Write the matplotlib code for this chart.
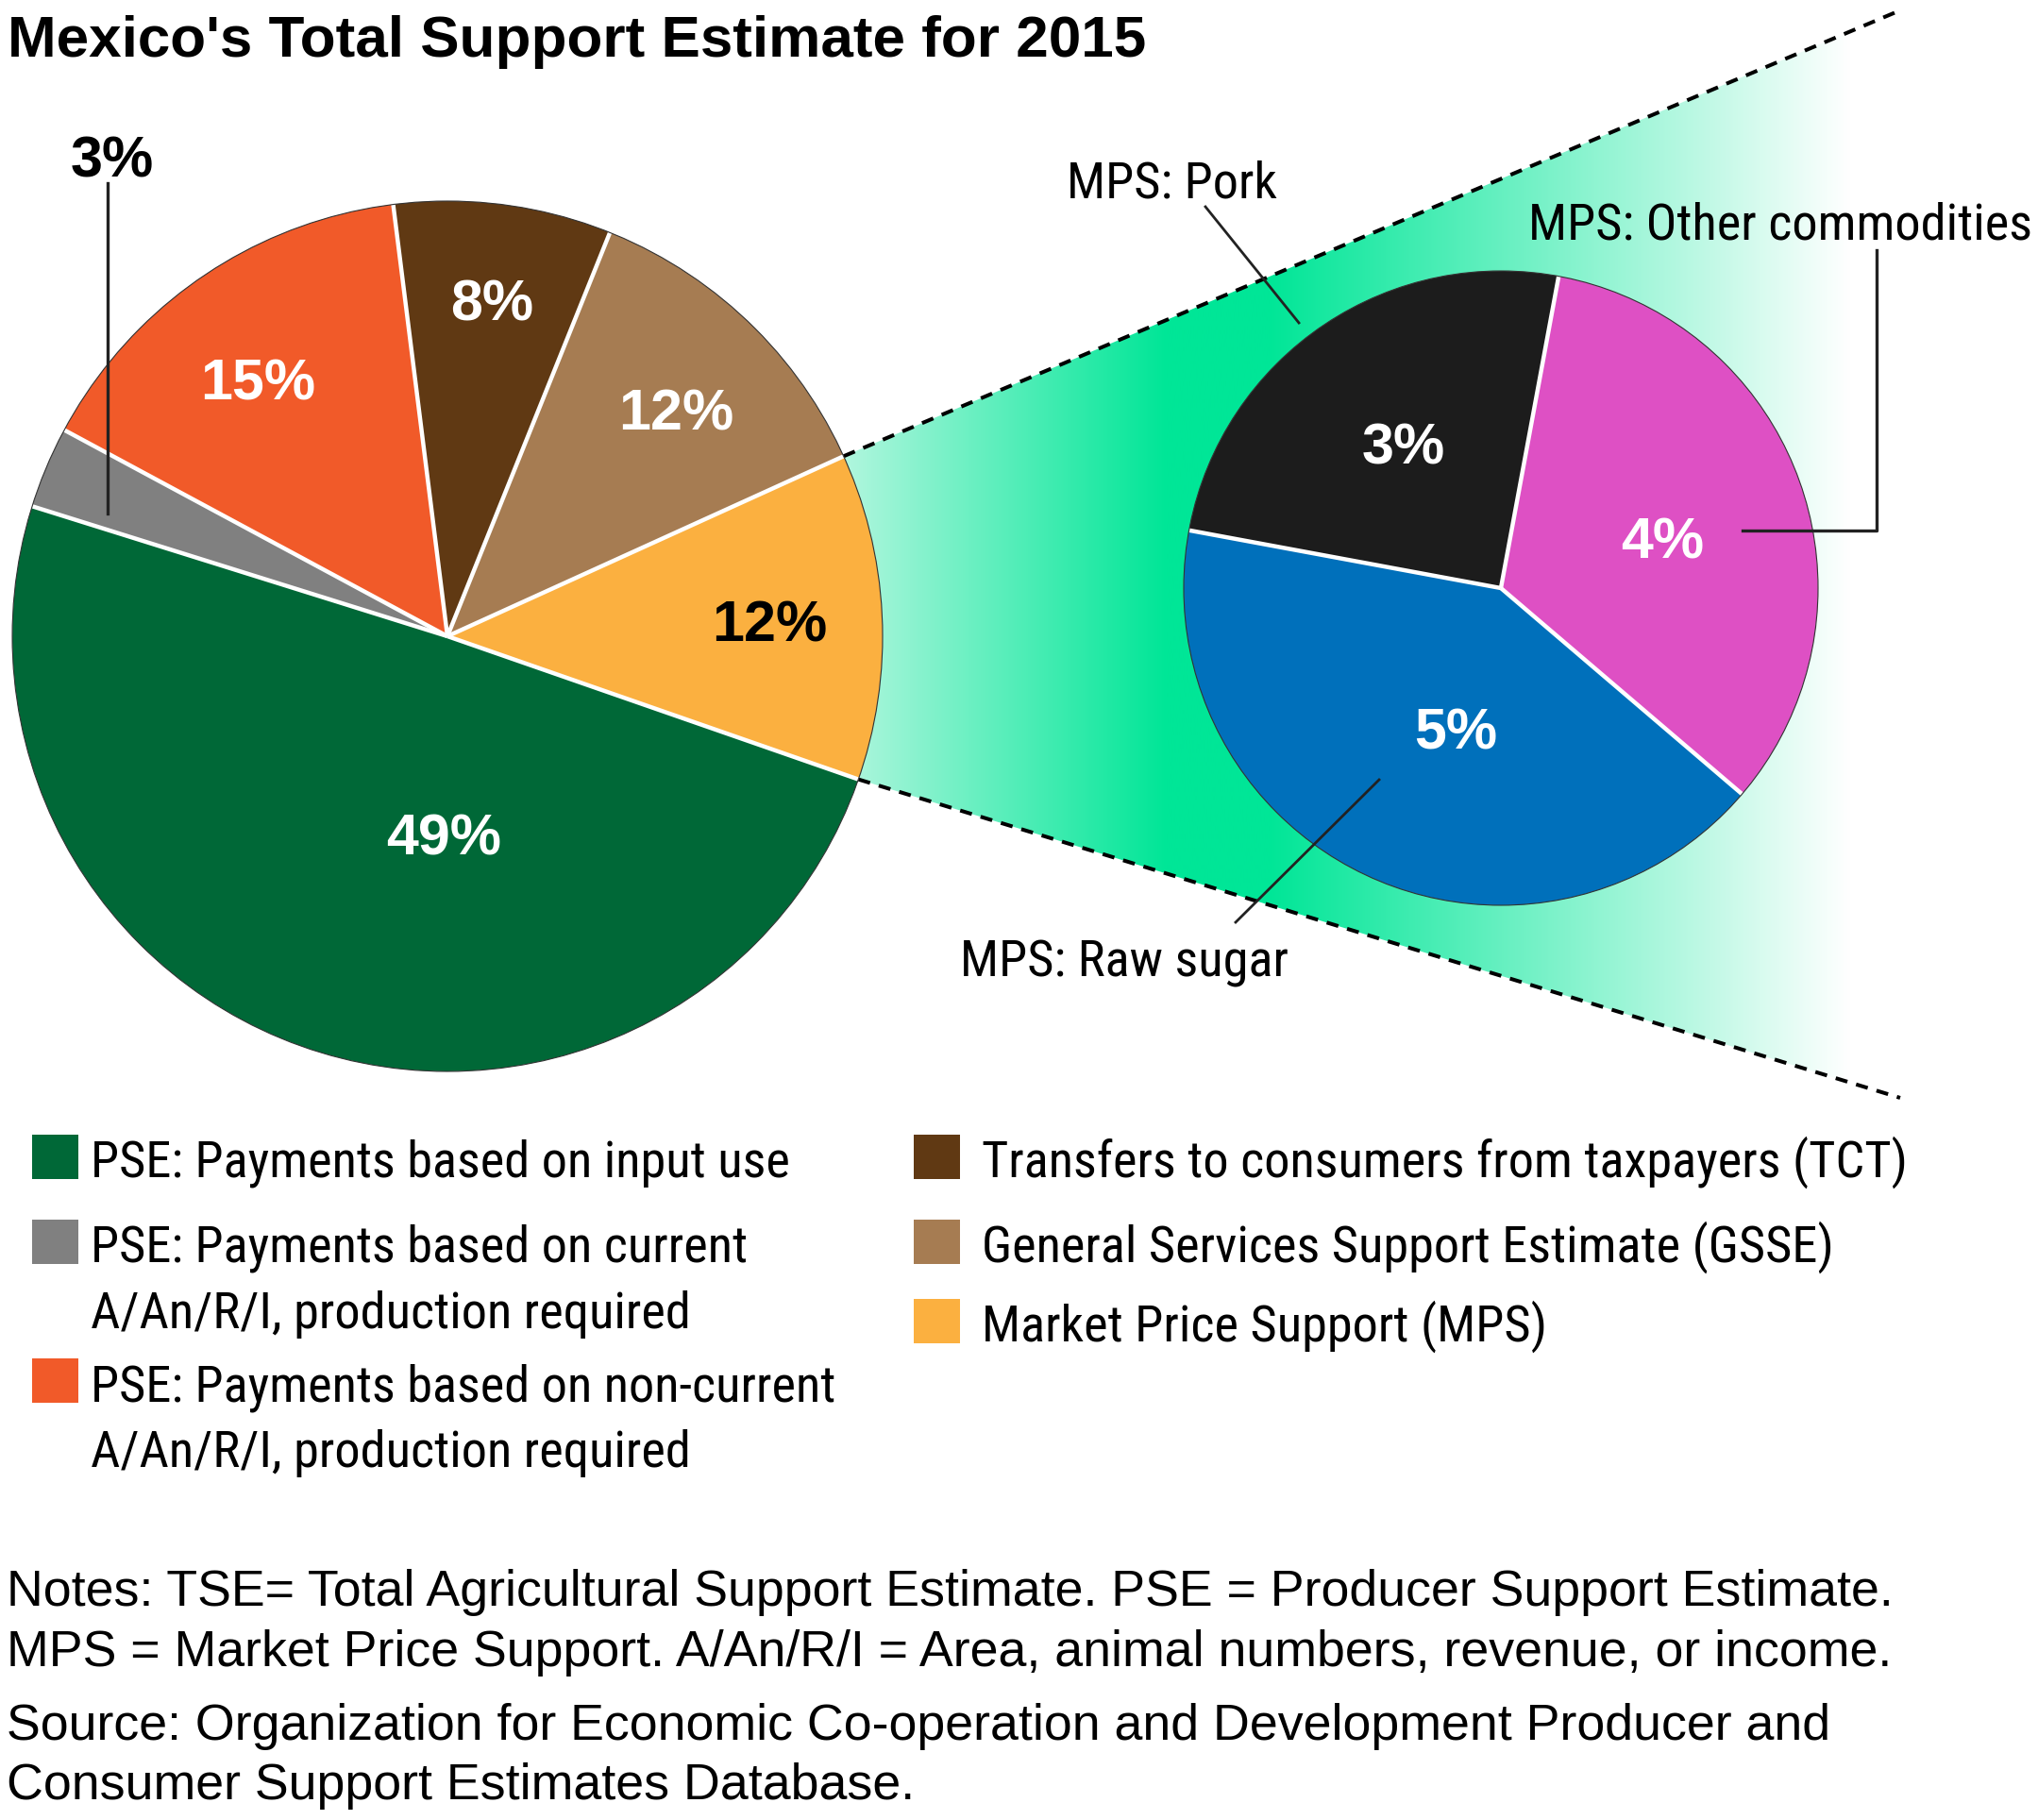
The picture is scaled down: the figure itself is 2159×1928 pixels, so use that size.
import numpy as np
import matplotlib
matplotlib.use("Agg")
import matplotlib.pyplot as plt
from matplotlib import font_manager as fm
from matplotlib.patches import Rectangle, Polygon, Circle
from matplotlib.colors import to_rgb

# ---------------- data ----------------
title = "Mexico's Total Support Estimate for 2015"
categories = ["PSE: Payments based on input use",
              "PSE: Payments based on current\nA/An/R/I, production required",
              "PSE: Payments based on non-current\nA/An/R/I, production required",
              "Transfers to consumers from taxpayers (TCT)",
              "General Services Support Estimate (GSSE)",
              "Market Price Support (MPS)"]
values = [49, 3, 15, 8, 12, 12]
colors = ["#006837", "#808080", "#F15A29", "#603913", "#A67C52", "#FBB040"]

mps_categories = ["MPS: Other commodities", "MPS: Pork", "MPS: Raw sugar"]
mps_values = [4, 3, 5]
mps_colors = ["#DE50C4", "#1C1C1C", "#0070BB"]

notes = ["Notes: TSE= Total Agricultural Support Estimate. PSE = Producer Support Estimate.",
         "MPS = Market Price Support. A/An/R/I = Area, animal numbers, revenue, or income."]
source = ["Source: Organization for Economic Co-operation and Development Producer and",
          "Consumer Support Estimates Database."]

# ---------------- fonts ----------------
names = {f.name for f in fm.fontManager.ttflist}
REG = "Liberation Sans" if "Liberation Sans" in names else "DejaVu Sans"
NARROW = None
NARROW_STRETCH = "normal"
narrow_scale = 1.0
for cand, sc in [("Liberation Sans Narrow", 1.0), ("Arial Narrow", 1.0),
                 ("Roboto Condensed", 0.955)]:
    if cand in names:
        NARROW = cand
        narrow_scale = sc
        break
if NARROW is None:
    cond = [f for f in fm.fontManager.ttflist
            if f.name == "DejaVu Sans" and "Condensed" in f.fname]
    if cond:
        NARROW = "DejaVu Sans"
        NARROW_STRETCH = "condensed"
        narrow_scale = 0.9
    else:
        NARROW = REG
        narrow_scale = 0.82

W, H = 2159, 1928
fig = plt.figure(figsize=(W / 100, H / 100), dpi=100)
ax = fig.add_axes([0, 0, 1, 1])


def Y(y):
    return H - y


def px(p):
    return p * 0.72


# ---------------- main pie ----------------
main_center = (474, Y(674))
main_r = 461
order = list(range(len(values)))[::-1]  # MPS first, counter-clockwise
wedges, _ = ax.pie([values[i] for i in order], colors=[colors[i] for i in order],
                   startangle=-19.2, counterclock=True, radius=main_r,
                   center=main_center, wedgeprops=dict(linewidth=0), frame=False)
for w in wedges:
    w.set_zorder(3)

# MPS wedge (first in pie order)
mps_w = wedges[0]
t1, t2 = np.deg2rad(mps_w.theta1), np.deg2rad(mps_w.theta2)
p_top = (main_center[0] + main_r * np.cos(t2), main_center[1] + main_r * np.sin(t2))
p_bot = (main_center[0] + main_r * np.cos(t1), main_center[1] + main_r * np.sin(t1))
end_top = (2013, Y(11))
end_bot = (2013, Y(1163))

# gradient band
poly = Polygon([p_top, end_top, end_bot, p_bot], closed=True, facecolor="none",
               edgecolor="none", transform=ax.transData)
ax.add_patch(poly)
gx = np.linspace(880, 2020, 600)
stops_x = [880, 1235, 1345, 1960, 2020]
stops_c = ["#B8F7E1", "#00E697", "#00E697", "#FFFFFF", "#FFFFFF"]
rgb = np.array([to_rgb(c) for c in stops_c])
grad = np.stack([np.interp(gx, stops_x, rgb[:, k]) for k in range(3)], axis=-1)[None, :, :]
im = ax.imshow(grad, extent=[880, 2020, Y(1170), Y(0)], aspect="auto", zorder=1,
               interpolation="bilinear")
im.set_clip_path(poly)
ax.plot([p_top[0], end_top[0]], [p_top[1], end_top[1]], color="black", lw=2.9,
        ls=(0, (3.2, 2.4)), zorder=2, solid_capstyle="butt")
ax.plot([p_bot[0], end_bot[0]], [p_bot[1], end_bot[1]], color="black", lw=2.9,
        ls=(0, (3.2, 2.4)), zorder=2, solid_capstyle="butt")


def separators(wlist, center, r):
    for w in wlist:
        a = np.deg2rad(w.theta1)
        ax.plot([center[0], center[0] + r * np.cos(a)],
                [center[1], center[1] + r * np.sin(a)],
                color="white", lw=3.2, zorder=4, solid_capstyle="butt")
    ax.add_patch(Circle(center, r, facecolor="none", edgecolor="#333333",
                        lw=0.8, zorder=5))


separators(wedges, main_center, main_r)

# ---------------- MPS breakdown pie ----------------
small_center = (1590, Y(623))
small_r = 336
swedges, _ = ax.pie(mps_values, colors=mps_colors, startangle=-40.5,
                    counterclock=True, radius=small_r, center=small_center,
                    wedgeprops=dict(linewidth=0), frame=False)
for w in swedges:
    w.set_zorder(3)
separators(swedges, small_center, small_r)

# ---------------- percentage labels ----------------
PCT = px(61)
main_lbl_pos = [(470, 906), (119, 187), (273, 423), (521, 339), (716, 456), (815, 679)]
main_lbl_col = ["white", "black", "white", "white", "white", "black"]
for v, (x, y), c in zip(values, main_lbl_pos, main_lbl_col):
    ax.text(x, Y(y), f"{v}%", ha="center", va="baseline", color=c, fontsize=PCT,
            fontweight="bold", family=REG, zorder=6)

small_lbl_pos = [(1761, 591), (1487, 492), (1542, 793)]
for v, (x, y) in zip(mps_values, small_lbl_pos):
    ax.text(x, Y(y), f"{v}%", ha="center", va="baseline", color="white", fontsize=PCT,
            fontweight="bold", family=REG, zorder=6)

# leader lines
LC = "#222222"
ax.plot([114, 114], [Y(194), Y(544)], color=LC, lw=2.4, zorder=6)
ax.plot([1277, 1376], [Y(219), Y(342)], color=LC, lw=2.0, zorder=6)
ax.plot([1988, 1988, 1846], [Y(265), Y(562), Y(562)], color=LC, lw=2.4, zorder=6)
ax.plot([1461, 1309], [Y(826), Y(977)], color=LC, lw=2.0, zorder=6)

LBL = px(57 * narrow_scale)
mps_lbl_pos = [(2153, 253, "right"), (1241, 209, "center"), (1191, 1035, "center")]
for t, (x, y, ha) in zip(mps_categories, mps_lbl_pos):
    ax.text(x, Y(y), t, ha=ha, va="baseline", fontsize=LBL, family=NARROW,
            fontstretch=NARROW_STRETCH, color="black", zorder=6)

# ---------------- title ----------------
ax.text(8, Y(60), title, ha="left", va="baseline", fontsize=px(62), fontweight="bold",
        family=REG, color="black")

# ---------------- legend ----------------
leg_x = [34, 34, 34, 968, 968, 968]
leg_tx = [96, 96, 96, 1040, 1040, 1040]
leg_top = [1202, 1292, 1439, 1202, 1292, 1376]
LEG = px(57 * narrow_scale)
for i, lab in enumerate(categories):
    ax.add_patch(Rectangle((leg_x[i], Y(leg_top[i] + 47)), 49, 47,
                           facecolor=colors[i], edgecolor="none"))
    for j, line in enumerate(lab.split("\n")):
        ax.text(leg_tx[i], Y(leg_top[i] + 45 + 70 * j), line, ha="left",
                va="baseline", fontsize=LEG, family=NARROW,
                fontstretch=NARROW_STRETCH, color="black")

# ---------------- notes / source ----------------
for line, yb in zip(notes + source, [1701, 1765, 1843, 1906]):
    ax.text(7, Y(yb), line, ha="left", va="baseline", fontsize=px(53.7), family=REG,
            color="black")

ax.set_xlim(0, W)
ax.set_ylim(0, H)
ax.set_aspect("auto")
ax.axis("off")
fig.savefig("out.png", dpi=100, facecolor="white")
